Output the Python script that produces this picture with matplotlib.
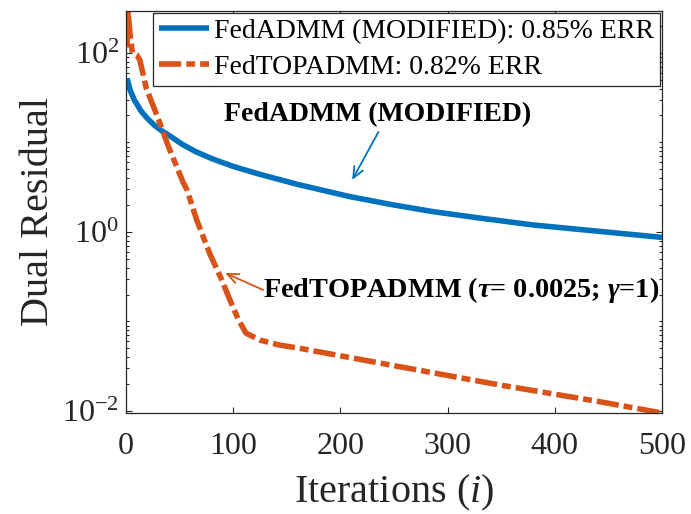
import numpy as np
import matplotlib
matplotlib.use('Agg')
import matplotlib.pyplot as plt
from matplotlib.ticker import FixedLocator, NullFormatter, LogFormatterSciNotation

plt.rcParams['font.family'] = ['Liberation Serif', 'DejaVu Serif']
plt.rcParams['mathtext.fontset'] = 'custom'
plt.rcParams['mathtext.rm'] = 'Liberation Serif'
plt.rcParams['mathtext.it'] = 'Liberation Serif:italic'
plt.rcParams['mathtext.bf'] = 'Liberation Serif:bold'
plt.rcParams['mathtext.bfit'] = 'Liberation Serif:italic:bold'

# values
iters_admm = [1, 4, 8, 14, 20, 27, 33, 42, 52, 65, 80, 100, 125, 160, 209, 250, 286, 330, 379, 440, 500]
res_admm = [52, 38, 29.5, 22.5, 18.5, 15.4, 13.6, 11.6, 9.6, 7.9, 6.6, 5.4, 4.4, 3.4, 2.48, 2.0, 1.69, 1.43, 1.20, 1.02, 0.87]

iters_top = [1, 2, 4, 6, 10, 13, 19, 30, 39, 53, 57, 66, 78, 88, 97, 105, 112, 125, 143, 162, 255, 349, 442, 500]
res_top = [115, 290, 150, 100, 95, 83, 40, 18.6, 9.4, 3.65, 2.94, 1.36, 0.578, 0.317, 0.174, 0.104, 0.074, 0.062, 0.0546, 0.0502, 0.0313, 0.0195, 0.0127, 0.0095]

blue = '#0072BD'
orange = '#D95319'
axcol = '#262626'

fig = plt.figure(figsize=(6.91, 5.14), dpi=100)
ax = fig.add_axes([0.1823, 0.1965, 0.958 - 0.1823, 0.9786 - 0.1965])

ax.plot(iters_admm, res_admm, color=blue, lw=4, solid_capstyle='butt',
        label='FedADMM (MODIFIED): 0.85% ERR')
ax.plot(iters_top, res_top, color=orange, lw=4, linestyle=(0, (4.0, 0.9, 1.6, 0.9)),
        label='FedTOPADMM: 0.82% ERR')

ax.set_yscale('log')
ax.set_xlim(0, 500)
ax.set_ylim(0.0095, 294)
ax.set_xticks([0, 100, 200, 300, 400, 500])
ax.yaxis.set_major_locator(FixedLocator([1e-2, 1e0, 1e2]))
ax.yaxis.set_major_formatter(LogFormatterSciNotation())
minor = [m * 10.0 ** e for e in range(-3, 3) for m in range(1, 10)
         if not (m == 1 and e in (-2, 0, 2))]
ax.yaxis.set_minor_locator(FixedLocator(minor))
ax.yaxis.set_minor_formatter(NullFormatter())

ax.tick_params(which='both', direction='in', top=True, right=True,
               color=axcol, labelcolor=axcol, labelsize=23, width=0.8)
ax.tick_params(which='major', length=4.5)
ax.tick_params(axis='x', which='major', pad=14)
ax.tick_params(axis='y', which='major', pad=5)
ax.tick_params(which='minor', length=2.5)
for s in ax.spines.values():
    s.set_color(axcol)
    s.set_linewidth(0.9)

ax.set_xlabel('Iterations ($i$)', fontsize=29, color=axcol, labelpad=8)
ax.set_ylabel('Dual Residual', fontsize=29, color=axcol, labelpad=4)

leg = ax.legend(loc='upper right', fontsize=20, fancybox=False, framealpha=1,
                edgecolor=axcol, handlelength=1.8, handletextpad=0.2,
                borderaxespad=0.08, borderpad=0.2, labelspacing=0.38)
leg.get_frame().set_linewidth(0.9)

ax.text(235, 20.3, 'FedADMM (MODIFIED)', fontsize=20, fontweight='bold',
        ha='center', va='center')
ax.annotate('', xy=(211, 3.81), xytext=(235.5, 13.1),
            arrowprops=dict(arrowstyle='->,head_length=0.8,head_width=0.35',
                            color=blue, lw=1.3, shrinkA=0, shrinkB=0))
ax.text(128, 0.225, r'FedTOPADMM ($\mathbfit{\tau}$= 0.0025; $\mathbfit{\gamma}$=1)',
        fontsize=20.3, fontweight='bold', ha='left', va='center')
ax.annotate('', xy=(92.5, 0.348), xytext=(128, 0.225),
            arrowprops=dict(arrowstyle='->,head_length=0.8,head_width=0.35',
                            color=orange, lw=1.3, shrinkA=0, shrinkB=0))

fig.savefig('out.png', dpi=100)
